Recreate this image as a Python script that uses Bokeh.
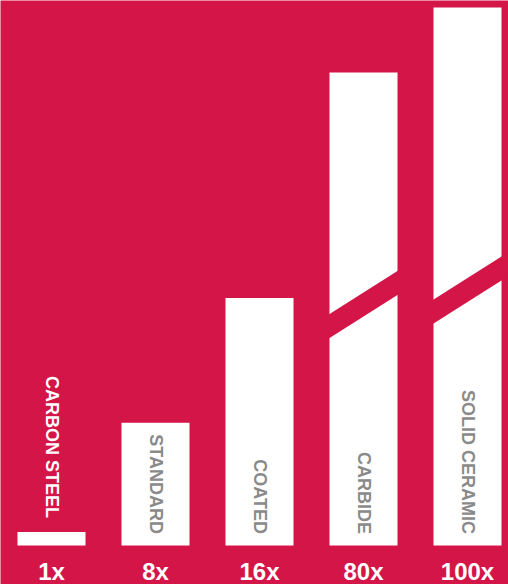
import re
import math
from bokeh.plotting import figure
from bokeh.models import Range1d, ColumnDataSource
from bokeh.core.properties import value
from bokeh.embed import file_html
from bokeh.resources import INLINE

# ---- data ----
categories = ["CARBON STEEL", "STANDARD", "COATED", "CARBIDE", "SOLID CERAMIC"]
multipliers = [1, 8, 16, 80, 100]
tick_labels = ["1x", "8x", "16x", "80x", "100x"]

# ---- styling ----
BG = "#D41547"
GRAY = "#8A8A8A"
PX_PER_UNIT = 15.6      # scale below the axis break
BREAK_AT = 17.41        # value where the scale is compressed
PX_PER_UNIT_HIGH = 3.25 # scale above the break
BAR_W = 0.654
BASE = 2
BREAK_CENTER = {3: 243, 4: 257.5}
BREAK_THICK = 24
BREAK_RISE = 43


def disp(v):
    if v <= BREAK_AT:
        return v * PX_PER_UNIT
    return BREAK_AT * PX_PER_UNIT + (v - BREAK_AT) * PX_PER_UNIT_HIGH


xs = list(range(len(categories)))
tops = [disp(v) for v in multipliers]

p = figure(width=508, height=584,
           x_range=Range1d(-51 / 104, (508 - 51) / 104),
           y_range=Range1d(-37, 547),
           output_backend="svg", toolbar_location=None,
           min_border=0, x_axis_location=None, y_axis_location=None,
           background_fill_color=BG, border_fill_color=BG,
           outline_line_color=None)
p.grid.visible = False

src = ColumnDataSource(dict(x=xs, top=tops, label=tick_labels))
p.vbar(x="x", top="top", bottom=BASE, width=BAR_W, source=src,
       fill_color="white", line_color=None)

# axis break bands on compressed bars
bx, by = [], []
for i, v in enumerate(multipliers):
    if v > BREAK_AT and i in BREAK_CENTER:
        c = BREAK_CENTER[i]
        half = BAR_W / 2 + 0.06
        slope = BREAK_RISE / BAR_W
        xl, xr = i - half, i + half
        yl = c - slope * half
        yr = c + slope * half
        bx.append([xl, xr, xr, xl])
        by.append([yl - BREAK_THICK / 2, yr - BREAK_THICK / 2,
                   yr + BREAK_THICK / 2, yl + BREAK_THICK / 2])
p.patches(bx, by, fill_color=BG, line_color=None)

# bottom multiplier labels
p.text(x="x", y=-24, text="label", source=src,
       text_font=value("Liberation Sans"), text_font_style="bold",
       text_font_size="24px", text_color="white",
       text_align="center", text_baseline="middle")

# vertical category labels
in_x, in_y, in_t = [], [], []
out_x, out_y, out_t = [], [], []
for i, (c, t) in enumerate(zip(categories, tops)):
    if t > 60:
        in_x.append(i); in_y.append(13.5); in_t.append(c)
    else:
        out_x.append(i); out_y.append(t + 14); out_t.append(c)

common = dict(angle=-math.pi / 2, text_font=value("Liberation Sans"),
              text_font_style="bold", text_font_size="18px",
              text_align="right", text_baseline="middle")
p.text(x=in_x, y=in_y, text=in_t, text_color=GRAY, **common)
p.text(x=out_x, y=out_y, text=out_t, text_color="white", **common)

html = file_html(p, INLINE)
html, n = re.subn(r"<body([^>]*)>",
                  r'<body\1 style="margin:0;overflow:hidden;background:%s;">' % BG,
                  html, count=1)
open("out.html", "w").write(html)
